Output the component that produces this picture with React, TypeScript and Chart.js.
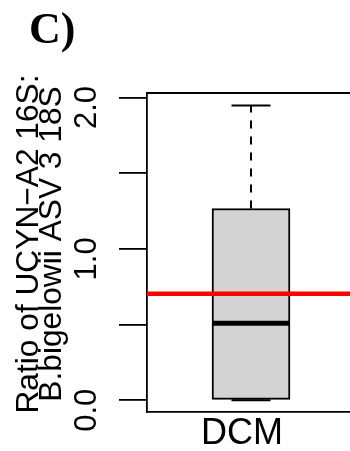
import { useEffect, useRef } from 'react';
import { Chart, registerables } from 'chart.js';

Chart.register(...registerables);

// ---- data ----
const categories = ['DCM'];
const boxLower = [0];        // Q1
const boxUpper = [1.267];    // Q3
const medians = [0.508];
const whiskerLow = [0];
const whiskerHigh = [1.947];
const refLine = [0.704];
const yTickValues = [0, 0.5, 1, 1.5, 2];
const yTickLabels = ['0.0', '', '1.0', '', '2.0'];
const yTitleLines = ['Ratio of UCYN\u2212A2 16S:', 'B.bigelowii ASV 3 18S'];
const panelLabel = 'C)';

const SANS = '"Liberation Sans", Arial, Helvetica, sans-serif';
const SERIF = '"Liberation Serif", "Times New Roman", serif';
const LW = 1.8;

const boxPlugin = {
  id: 'boxExtras',
  afterDatasetsDraw(chart: any) {
    const { ctx, chartArea, scales } = chart;
    const x = scales.x;
    const y = scales.y;
    const meta = chart.getDatasetMeta(0);
    ctx.save();
    ctx.strokeStyle = '#000';
    ctx.lineCap = 'butt';
    meta.data.forEach((bar: any, i: number) => {
      const cx = Math.round(x.getPixelForValue(i));
      const { width } = bar.getProps(['width'], true);
      const half = width / 2;
      const capHalf = half * 0.5;
      // dashed whiskers
      ctx.lineWidth = 2;
      ctx.setLineDash([8, 8]);
      ctx.beginPath();
      ctx.moveTo(cx, y.getPixelForValue(boxUpper[i]));
      ctx.lineTo(cx, y.getPixelForValue(whiskerHigh[i]));
      ctx.moveTo(cx, y.getPixelForValue(boxLower[i]));
      ctx.lineTo(cx, y.getPixelForValue(whiskerLow[i]));
      ctx.stroke();
      ctx.setLineDash([]);
      // caps
      ctx.beginPath();
      const yh = y.getPixelForValue(whiskerHigh[i]);
      const yl = y.getPixelForValue(whiskerLow[i]);
      ctx.moveTo(cx - capHalf, yh);
      ctx.lineTo(cx + capHalf, yh);
      ctx.moveTo(cx - capHalf, yl);
      ctx.lineTo(cx + capHalf, yl);
      ctx.stroke();
      // median
      ctx.lineWidth = 5;
      ctx.beginPath();
      const ym = y.getPixelForValue(medians[i]);
      ctx.moveTo(cx - half, ym);
      ctx.lineTo(cx + half, ym);
      ctx.stroke();
    });
    // reference line
    ctx.strokeStyle = '#ff0000';
    ctx.lineWidth = 4.5;
    refLine.forEach((v) => {
      const yr = y.getPixelForValue(v);
      ctx.beginPath();
      ctx.moveTo(chartArea.left, yr);
      ctx.lineTo(chartArea.right, yr);
      ctx.stroke();
    });
    // top frame line
    ctx.strokeStyle = '#000';
    ctx.lineWidth = LW;
    ctx.beginPath();
    ctx.moveTo(chartArea.left - LW / 2, chartArea.top);
    ctx.lineTo(chartArea.right, chartArea.top);
    ctx.stroke();
    ctx.restore();
  },
  afterDraw(chart: any) {
    const { ctx, chartArea } = chart;
    ctx.save();
    ctx.fillStyle = '#000';
    ctx.font = `bold 44px ${SERIF}`;
    ctx.textAlign = 'left';
    ctx.textBaseline = 'alphabetic';
    ctx.fillText(panelLabel, 29, 43);
    // y axis title (two lines, rotated)
    ctx.font = `31.7px ${SANS}`;
    ctx.textAlign = 'center';
    const cy = (chartArea.top + chartArea.bottom) / 2 - 8.5;
    const baselines = [37.5, 61];
    yTitleLines.forEach((t, i) => {
      ctx.save();
      ctx.translate(baselines[i], cy);
      ctx.rotate(-Math.PI / 2);
      ctx.fillText(t, 0, 0);
      ctx.restore();
    });
    ctx.restore();
  },
};

export default function App() {
  const ref = useRef<HTMLCanvasElement | null>(null);
  useEffect(() => {
    if (!ref.current) return;
    const chart = new Chart(ref.current, {
      type: 'bar',
      data: {
        labels: categories,
        datasets: [
          {
            data: categories.map((_, i) => [boxLower[i], boxUpper[i]]) as any,
            backgroundColor: '#d3d3d3',
            borderColor: '#000',
            borderWidth: 2,
            borderSkipped: false,
            barThickness: 78,
          },
        ],
      },
      options: {
        responsive: false,
        animation: false,
        devicePixelRatio: 1,
        layout: { padding: { left: 0, top: 93, right: 5, bottom: 0 } },
        plugins: {
          legend: { display: false },
          tooltip: { enabled: false },
          title: { display: false },
        },
        scales: {
          x: {
            type: 'category',
            offset: true,
            grid: { display: true, drawOnChartArea: false, drawTicks: false },
            border: { display: true, color: '#000', width: LW },
            ticks: {
              color: '#000',
              font: { family: SANS, size: 36 },
              padding: 0,
              labelOffset: -9,
              maxRotation: 0,
              minRotation: 0,
            },
            afterFit: (s: any) => {
              s.height = 39;
            },
          },
          y: {
            type: 'linear',
            min: -0.078,
            max: 2.03,
            afterBuildTicks: (s: any) => {
              s.ticks = yTickValues.map((v) => ({ value: v }));
            },
            grid: {
              drawOnChartArea: false,
              drawTicks: true,
              tickLength: 28,
              color: '#000',
              lineWidth: LW,
            },
            border: { display: true, color: '#000', width: LW },
            ticks: {
              color: '#000',
              font: { family: SANS, size: 31 },
              minRotation: 90,
              maxRotation: 90,
              crossAlign: 'center',
              padding: 10,
              labelOffset: 10,
              callback: (_v: any, i: number) => yTickLabels[i],
            },
            afterFit: (s: any) => {
              s.width = 147;
            },
          },
        },
      },
      plugins: [boxPlugin],
    });
    return () => chart.destroy();
  }, []);
  return (
    <div
      style={{
        position: 'absolute',
        left: 0,
        top: 0,
        width: 350,
        height: 451,
        overflow: 'hidden',
        background: '#fff',
      }}
    >
      <canvas ref={ref} width={360} height={451} style={{ display: 'block' }} />
    </div>
  );
}
